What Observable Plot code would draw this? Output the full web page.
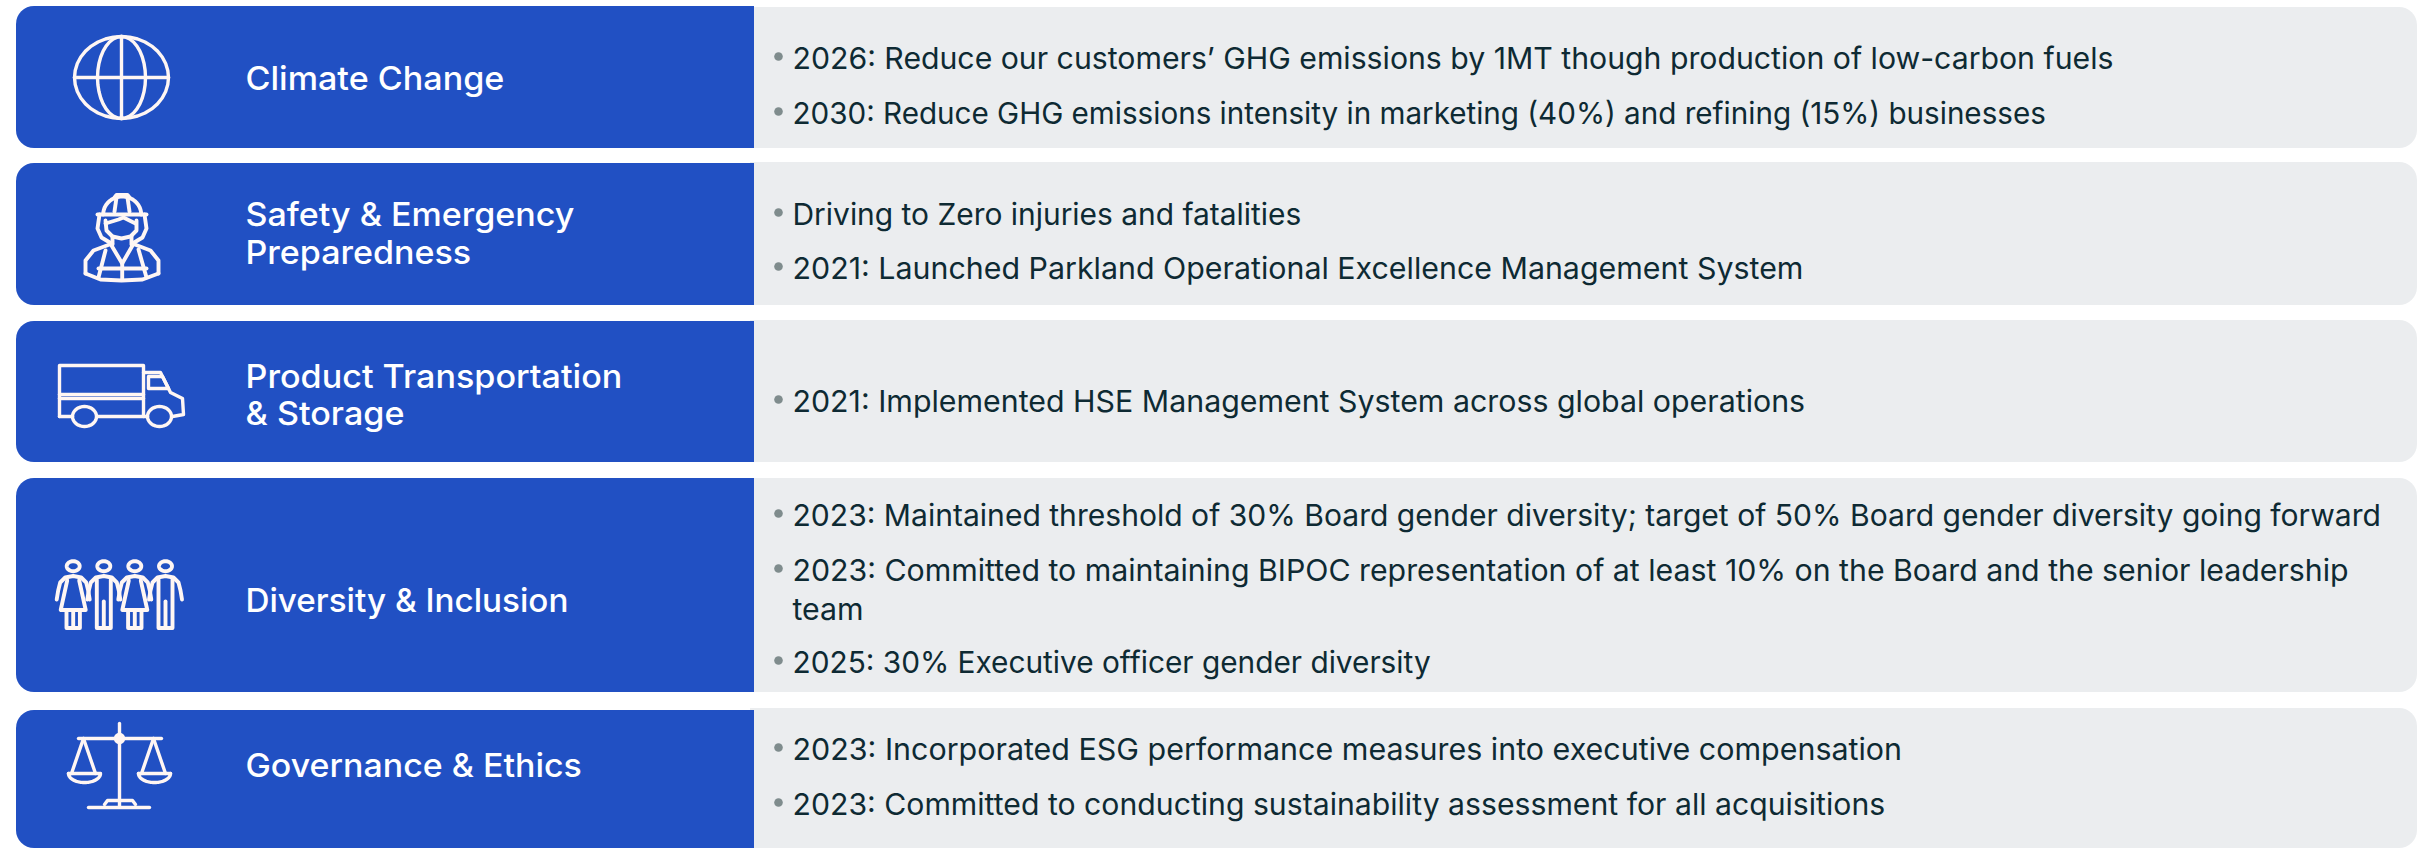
<!DOCTYPE html>
<html>
<head>
<meta charset="utf-8">
<script src="https://cdn.jsdelivr.net/npm/d3@7"></script>
<script src="https://cdn.jsdelivr.net/npm/@observablehq/plot@0.6"></script>
<style>html,body{margin:0;padding:0;background:#fff;overflow:hidden}svg{display:block}</style>
</head>
<body>
<div id="chart"></div>
<script>
const categories = [
  "Climate Change",
  "Safety & Emergency\nPreparedness",
  "Product Transportation\n& Storage",
  "Diversity & Inclusion",
  "Governance & Ethics"
];
const climateItems = [
  "2026: Reduce our customers’ GHG emissions by 1MT though production of low-carbon fuels",
  "2030: Reduce GHG emissions intensity in marketing (40%) and refining (15%) businesses"
];
const safetyItems = [
  "Driving to Zero injuries and fatalities",
  "2021: Launched Parkland Operational Excellence Management System"
];
const transportItems = [
  "2021: Implemented HSE Management System across global operations"
];
const diversityItems = [
  "2023: Maintained threshold of 30% Board gender diversity; target of 50% Board gender diversity going forward",
  "2023: Committed to maintaining BIPOC representation of at least 10% on the Board and the senior leadership\nteam",
  "2025: 30% Executive officer gender diversity"
];
const governanceItems = [
  "2023: Incorporated ESG performance measures into executive compensation",
  "2023: Committed to conducting sustainability assessment for all acquisitions"
];
const itemGroups = [climateItems, safetyItems, transportItems, diversityItems, governanceItems];

// Layout of the panel, in picture units
const W = 2417, H = 848;
const blueBands = [[6,148],[163,305],[321,462],[478,692],[710,848]];
const greyBands = [[7,148],[162,305],[320,462],[478,692],[708,848]];
const labelCentres = [77.2,232.6,393.8,599.8,764.5];
const labelEnds = [504,574,622,568,581.5];
const bulletCentres = [[56,111],[212,266],[399],[513,568,660],[747,802]];
const itemEnds = [[2113,2046],[1301,1803.5],[1805],[2381,2349,1430.5],[1902,1885]];
const ITEM_LINE = 39;

const rows = categories.map((c,i)=>({c, y1:blueBands[i][0], y2:blueBands[i][1], g1:greyBands[i][0], g2:greyBands[i][1], yc:labelCentres[i], end:labelEnds[i], start:245}));
const items = itemGroups.flatMap((g,i)=>g.map((t,j)=>({
  t, bullet:bulletCentres[i][j], end:itemEnds[i][j], start:792,
  y:bulletCentres[i][j]+(t.includes("\n")?ITEM_LINE/2:0)
})));

// Icon outlines
const ell=(cx,cy,rx,ry,a0=0,a1=360)=>d3.range(0,37).map(k=>{const a=(a0+(a1-a0)*k/36)*Math.PI/180;return [cx+rx*Math.cos(a),cy+ry*Math.sin(a)]});
const figure=(cx,female)=>{
  const parts=[ell(cx,565.7,6.5,5)];
  parts.push([[cx-16.5,599],[cx-15,590],[cx-13,582],[cx-8,577],[cx,575.5],[cx+8,577],[cx+13,582],[cx+15,590],[cx+16.5,599]]);
  if(female){
    parts.push([[cx-6,580],[cx-12.5,609.5],[cx+12.5,609.5],[cx+6,580]]);
    parts.push([[cx-6.7,610],[cx-6.7,627.5],[cx+6.7,627.5],[cx+6.7,610]]);
    parts.push([[cx,610],[cx,627.5]]);
  } else {
    parts.push([[cx-7,579],[cx-7,627.5],[cx+7,627.5],[cx+7,579]]);
    parts.push([[cx,601],[cx,627.5]]);
  }
  return parts;
};
const iconGlobe=[ell(121,77,47,41),ell(121,77,24,41),[[121,36],[121,118]],[[74,77],[168,77]]];
const iconWorker=[
  ell(121.7,214,19,18,180,360),[[97,214],[146,214]],[[114,197],[116,194.5],[127,194.5],[129,197]],
  [[116,197],[114,211]],[[127,197],[129,211]],
  [[99,214],[97,228],[101,237],[111,243]],[[144,214],[146,228],[142,237],[132,243]],
  [[105,223],[118,219],[123,217],[135,223]],
  [[105,220],[106,230],[112,236],[121,238],[130,236],[136,230],[136,220]],
  [[112,236],[112,244]],[[131,236],[131,244]],
  [[85,273],[85,260],[93,250],[111.7,243]],[[158,273],[158,260],[150,250],[131.7,243]],
  [[85,273],[100,279],[121,280],[142,279],[158,273]],
  [[111,245],[121.7,263],[132,245]],[[121.7,263],[121.7,279]],
  [[105,250],[98,277]],[[138,249],[146,277]],[[98,268],[146,268]]
];
const iconTruck=[
  [[59,416],[59,365],[143,365],[143,416]],[[59,394],[143,394]],[[59,398],[143,398]],
  [[59,416],[72,416]],[[97,416],[147,416]],[[143,372],[160,372],[170,392],[182,398],[183,414],[172,416]],
  [[148,376],[162,376],[168,388],[148,388],[148,376]],
  ell(84,416,12,10),ell(159,416,12,10)
];
const iconPeople=[...figure(72.7,true),...figure(103.3,false),...figure(134.3,true),...figure(165,false)];
const iconScale=[
  [[119,723],[119,805]],[[78,738],[161,738]],ell(119,738,4,4),
  [[83,738],[71,773]],[[83,738],[95,773]],[[68,773],[99.5,773]],ell(84,773,16,9,0,180),
  [[153,738],[141,773]],[[153,738],[165,773]],[[138,773],[170,773]],ell(154,773,16,9,0,180),
  [[88,807],[149,807]],[[104,804],[107,800],[132,800],[135,804]]
];
const toPoints=list=>list.flat().flatMap((pts,id)=>pts.map(p=>({x:p[0],y:p[1],id})));
const iconLine=(list,sw)=>Plot.line(toPoints(list),{x:"x",y:"y",z:"id",stroke:"#fff6f3",strokeWidth:sw,curve:"linear",strokeLinejoin:"round",strokeLinecap:"round"});

const plot = Plot.plot({
  width:W, height:H, margin:0,
  x:{domain:[0,W],range:[0,W],axis:null},
  y:{domain:[0,H],range:[0,H],axis:null},
  marks:[
    Plot.rect(rows,{x1:()=>750,x2:()=>W,y1:"g1",y2:"g2",fill:"#ebedef",rx2:18}),
    Plot.rect(rows,{x1:()=>16,x2:()=>754,y1:"y1",y2:"y2",fill:"#2150c3",rx1:18}),
    iconLine([iconGlobe,iconTruck,iconScale],3.4),
    iconLine([iconWorker,iconPeople],3.9),
    Plot.text(rows,{x:"start",y:"yc",text:"c",fill:"#ffffff",fontSize:33,fontWeight:500,fontFamily:"Inter",textAnchor:"start",lineAnchor:"middle",lineHeight:1.14,className:"lab"}),
    Plot.dot(items,{x:()=>778,y:"bullet",r:4.3,fill:"#7f8c8d",stroke:null}),
    Plot.text(items,{x:"start",y:"y",text:"t",fill:"#0e2a33",fontSize:30,fontWeight:400,fontFamily:"Inter",textAnchor:"start",lineAnchor:"middle",lineHeight:1.3,className:"itm"})
  ]
});
document.getElementById("chart").append(plot);

// Fit each text's first line to the width it has in the reference
function fit(sel, data){
  d3.select(plot).selectAll(sel+" text").each(function(_,k){
    const d=data[k], node=this.querySelector("tspan")||this;
    const s=(d.end-d.start)/node.getComputedTextLength();
    this.setAttribute("transform",this.getAttribute("transform")+` scale(${s},1)`);
  });
}
fit(".lab",rows);
fit(".itm",items);
</script>
</body>
</html>
